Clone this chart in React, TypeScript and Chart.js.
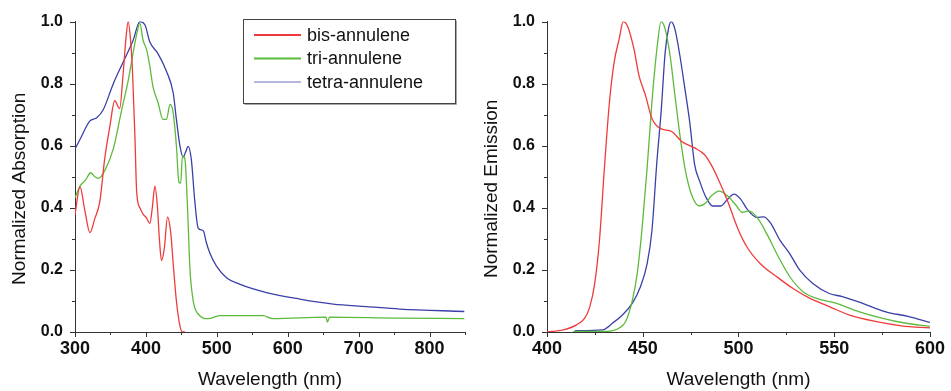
import React, { useEffect, useRef } from "react";
import { Chart, registerables } from "chart.js";
Chart.register(...registerables);

const FONT = "'Liberation Sans', Arial, sans-serif";

const seriesNames = ["bis-annulene", "tri-annulene", "tetra-annulene"];
const lineColors = ["#ef3b3b", "#5dbb3c", "#3b40a8"];
const legendLineColors = ["#ef3b3b", "#5dbb3c", "#b6b6dc"];

// Left panel: absorption
const absBisX = [300, 307, 314, 321, 328, 335, 342, 349, 356, 363, 368, 372, 375, 378, 381, 384.5, 387, 391.5, 396, 401, 405.6, 409, 412.7, 416, 419, 422, 426, 430.5, 435, 438.5, 443, 448, 451.6, 455];
const absBisY = [0.378, 0.468, 0.39, 0.32, 0.366, 0.42, 0.56, 0.66, 0.745, 0.72, 0.835, 0.95, 1.0, 0.95, 0.845, 0.63, 0.45, 0.4, 0.38, 0.367, 0.35, 0.4, 0.47, 0.41, 0.3, 0.23, 0.27, 0.37, 0.32, 0.22, 0.1, 0.02, 0.0, 0.0];

const absTriX = [300, 307, 315, 322, 328, 333, 342, 354, 366, 375, 382, 388, 391.5, 396, 401, 405.6, 410, 417, 424, 429, 434, 438.5, 443, 446.5, 449, 451.6, 455, 458.7, 462, 466.7, 473.7, 488, 504, 565, 579, 654, 656, 659, 750, 849];
const absTriY = [0.432, 0.47, 0.49, 0.513, 0.5, 0.495, 0.52, 0.59, 0.717, 0.81, 0.9, 0.97, 0.995, 0.94, 0.91, 0.855, 0.79, 0.74, 0.685, 0.685, 0.733, 0.706, 0.6, 0.483, 0.48, 0.568, 0.557, 0.4, 0.207, 0.1, 0.058, 0.043, 0.053, 0.053, 0.043, 0.048, 0.032, 0.048, 0.045, 0.043];

const absTetraX = [300, 307, 321, 330.5, 340, 354, 368, 382, 391.5, 398.6, 405.6, 417, 429, 438.5, 443, 448, 452.6, 456, 459.6, 464, 469, 473.7, 481, 485, 490, 499.5, 513.6, 532, 570, 617, 664, 711, 758, 849];
const absTetraY = [0.59, 0.62, 0.68, 0.69, 0.717, 0.8, 0.87, 0.94, 1.0, 0.99, 0.934, 0.897, 0.84, 0.77, 0.685, 0.6, 0.563, 0.58, 0.598, 0.557, 0.42, 0.335, 0.326, 0.29, 0.255, 0.212, 0.175, 0.154, 0.127, 0.106, 0.09, 0.082, 0.074, 0.066];

// Right panel: emission
const emBisX = [400, 408.6, 415.4, 419.7, 422.3, 424.9, 427.4, 430, 432.6, 435.1, 437.7, 439.8, 442, 445.4, 448, 451.4, 454.8, 459.1, 465.1, 470.3, 477.1, 482.3, 485.7, 489.1, 494.3, 499.4, 504.5, 511.4, 520, 528.5, 537.1, 547.4, 557.7, 571.4, 585.1, 600];
const emBisY = [0, 0.007, 0.023, 0.045, 0.08, 0.156, 0.295, 0.53, 0.74, 0.87, 0.944, 1.0, 0.986, 0.912, 0.827, 0.763, 0.688, 0.656, 0.646, 0.614, 0.593, 0.571, 0.539, 0.497, 0.422, 0.337, 0.273, 0.22, 0.178, 0.14, 0.109, 0.082, 0.055, 0.034, 0.02, 0.013];

const emTriX = [413.7, 430.8, 437.7, 441.1, 444.6, 447.1, 449.7, 452.3, 454.8, 457.4, 459.6, 461.7, 464.3, 466.8, 469.4, 472, 475.4, 479.7, 483.1, 485.7, 490, 494.3, 498.5, 502, 505.4, 509.7, 514.8, 520, 526.8, 533.7, 540.5, 550.8, 562.8, 574.8, 586.8, 600];
const emTriY = [0.002, 0.002, 0.013, 0.034, 0.103, 0.188, 0.337, 0.529, 0.741, 0.912, 1.0, 0.976, 0.89, 0.763, 0.635, 0.529, 0.444, 0.406, 0.417, 0.438, 0.454, 0.438, 0.41, 0.385, 0.39, 0.369, 0.316, 0.252, 0.178, 0.13, 0.109, 0.093, 0.066, 0.045, 0.029, 0.018];

const emTetraX = [414.6, 429.1, 434.3, 439.4, 444.6, 448.8, 452.3, 454.8, 457.4, 459.6, 461.7, 463.4, 464.8, 466.8, 469.4, 472, 474.5, 477.1, 479.7, 483.1, 486.5, 490.8, 494.3, 497.7, 501.1, 504.5, 509.7, 513.1, 516.5, 521.7, 526.8, 532, 538.8, 547.4, 554.2, 564.5, 576.5, 588.5, 600];
const emTetraY = [0.004, 0.007, 0.029, 0.055, 0.093, 0.146, 0.22, 0.327, 0.55, 0.71, 0.9, 0.976, 1.0, 0.976, 0.89, 0.784, 0.678, 0.539, 0.486, 0.433, 0.406, 0.406, 0.428, 0.444, 0.428, 0.396, 0.369, 0.371, 0.353, 0.295, 0.252, 0.199, 0.156, 0.124, 0.114, 0.093, 0.066, 0.05, 0.031];

const yTitleAbs = "Normalized Absorption";
const yTitleEm = "Normalized Emission";
const xTitle = "Wavelength (nm)";

const pts = (xs: number[], ys: number[]) => xs.map((x, i) => ({ x, y: ys[i] }));
const isMul = (v: number, s: number) => Math.abs(v / s - Math.round(v / s)) < 1e-6;

const tickPlugin = {
  id: "minorTicks",
  afterDraw(chart: any, _args: any, opts: any) {
    const ctx = chart.ctx;
    const xs = chart.scales.x;
    const ys = chart.scales.y;
    const area = chart.chartArea;
    ctx.save();
    ctx.strokeStyle = "#333";
    ctx.lineWidth = 1;
    for (let v = xs.min; v <= xs.max + 1e-6; v += opts.xMinor) {
      const px = Math.round(xs.getPixelForValue(v)) + 0.5;
      const len = isMul(v, opts.xMajor) ? 5 : 3;
      ctx.beginPath();
      ctx.moveTo(px, area.bottom);
      ctx.lineTo(px, area.bottom + len);
      ctx.stroke();
    }
    for (let v = ys.min; v <= ys.max + 1e-6; v += opts.yMinor) {
      const py = Math.round(ys.getPixelForValue(v)) + 0.5;
      const len = isMul(v, opts.yMajor) ? 5 : 3;
      ctx.beginPath();
      ctx.moveTo(area.left, py);
      ctx.lineTo(area.left - len, py);
      ctx.stroke();
    }
    // y-axis title
    ctx.save();
    ctx.translate(opts.yTitleX, (area.top + area.bottom) / 2 + opts.yTitleShift);
    ctx.rotate(-Math.PI / 2);
    ctx.font = `19px ${FONT}`;
    ctx.fillStyle = "#111";
    ctx.textAlign = "center";
    ctx.textBaseline = "middle";
    ctx.fillText(opts.yTitle, 0, 0);
    ctx.restore();
    ctx.restore();
  },
};

const legendPlugin = {
  id: "boxLegend",
  afterDraw(chart: any, _args: any, opts: any) {
    if (!opts || !opts.show) return;
    const ctx = chart.ctx;
    const { x, y, w, h } = opts.box;
    ctx.save();
    ctx.fillStyle = "#ffffff";
    ctx.fillRect(x, y, w, h);
    ctx.strokeStyle = "#8a8a8a";
    ctx.lineWidth = 1.5;
    ctx.beginPath();
    ctx.moveTo(x + 1.5, y + h + 1);
    ctx.lineTo(x + w + 1, y + h + 1);
    ctx.lineTo(x + w + 1, y + 1.5);
    ctx.stroke();
    ctx.strokeStyle = "#444";
    ctx.lineWidth = 1;
    ctx.strokeRect(x + 0.5, y + 0.5, w, h);
    ctx.font = `18px ${FONT}`;
    ctx.textBaseline = "middle";
    ctx.textAlign = "left";
    chart.data.datasets.forEach((ds: any, i: number) => {
      const cy = y + 16 + i * 23.5;
      ctx.strokeStyle = legendLineColors[i];
      ctx.lineWidth = 2;
      ctx.beginPath();
      ctx.moveTo(x + 11, cy);
      ctx.lineTo(x + 58, cy);
      ctx.stroke();
      ctx.fillStyle = "#111";
      ctx.fillText(ds.label, x + 64, cy + 1);
    });
    ctx.restore();
  },
};

function makeConfig(p: any) {
  return {
    type: "line",
    data: {
      datasets: p.series.map((s: any, i: number) => ({
        label: seriesNames[i],
        data: s,
        borderColor: lineColors[i],
        borderWidth: 1.3,
        pointRadius: 0,
        fill: false,
        cubicInterpolationMode: "monotone",
      })),
    },
    options: {
      responsive: false,
      animation: false,
      events: [],
      layout: { padding: { left: 0, top: p.top, right: p.right, bottom: 0 } },
      plugins: {
        legend: { display: false },
        tooltip: { enabled: false },
        minorTicks: { ...p.ticks, yTitle: p.yTitle, yTitleX: p.yTitleX, yTitleShift: 12 },
        boxLegend: p.legend,
      },
      scales: {
        x: {
          type: "linear",
          min: p.xMin,
          max: p.xMax,
          grid: { display: false, drawTicks: false },
          border: { display: true, color: "#333", width: 1 },
          afterBuildTicks: (s: any) => {
            const list: any[] = [];
            for (let v = p.xMin; v <= p.xMax + 1e-6; v += p.ticks.xMajor) list.push({ value: v });
            s.ticks = list;
          },
          ticks: {
            padding: 6,
            color: "#111",
            font: { family: FONT, size: 18, weight: "bold" },
            maxRotation: 0,
            autoSkip: false,
            callback: (v: number) => String(v),
          },
          title: {
            display: true,
            text: xTitle,
            color: "#111",
            font: { family: FONT, size: 19 },
            padding: { top: 0, bottom: 0 },
          },
          afterFit: (s: any) => {
            s.height = 391 - p.bottom;
          },
        },
        y: {
          type: "linear",
          min: 0,
          max: 1,
          grid: { display: false, drawTicks: false },
          border: { display: true, color: "#333", width: 1 },
          ticks: {
            stepSize: 0.2,
            padding: 12,
            color: "#111",
            font: { family: FONT, size: 16, weight: "bold" },
            callback: (v: number) => v.toFixed(1),
          },
          title: { display: false },
          afterFit: (s: any) => {
            s.width = p.left;
          },
        },
      },
    },
    plugins: [tickPlugin, legendPlugin],
  };
}

function Panel(props: any) {
  const ref = useRef<HTMLCanvasElement | null>(null);
  useEffect(() => {
    if (!ref.current) return;
    const chart = new Chart(ref.current, makeConfig(props.cfg) as any);
    return () => chart.destroy();
  }, []);
  return (
    <canvas
      ref={ref}
      width={props.w}
      height={391}
      style={{ position: "absolute", left: props.x, top: 0, width: props.w, height: 391, display: "block" }}
    />
  );
}

export default function App() {
  const leftCfg = {
    series: [pts(absBisX, absBisY), pts(absTriX, absTriY), pts(absTetraX, absTetraY)],
    xMin: 300,
    xMax: 850,
    left: 75,
    top: 18,
    right: 15,
    bottom: 332,
    yTitle: yTitleAbs,
    yTitleX: 20,
    ticks: { xMajor: 100, xMinor: 50, yMajor: 0.2, yMinor: 0.1 },
    legend: { show: true, box: { x: 243, y: 19, w: 212, h: 84 } },
  };
  const rightCfg = {
    series: [pts(emBisX, emBisY), pts(emTriX, emTriY), pts(emTetraX, emTetraY)],
    xMin: 400,
    xMax: 600,
    left: 67,
    top: 19,
    right: 15,
    bottom: 332,
    yTitle: yTitleEm,
    yTitleX: 12,
    ticks: { xMajor: 50, xMinor: 25, yMajor: 0.2, yMinor: 0.1 },
    legend: { show: false },
  };
  return (
    <div style={{ position: "absolute", left: 0, top: 0, width: 951, height: 391, background: "#fff", overflow: "hidden" }}>
      <Panel x={0} w={480} cfg={leftCfg} />
      <Panel x={480} w={471} cfg={rightCfg} />
    </div>
  );
}
